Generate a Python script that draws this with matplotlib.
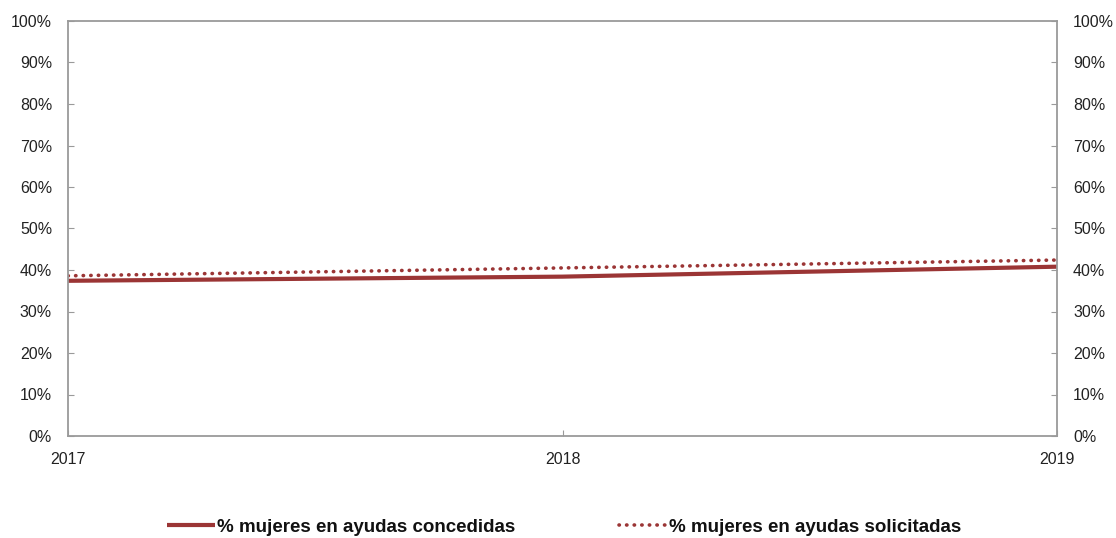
import matplotlib
matplotlib.use("Agg")
import matplotlib.pyplot as plt
from matplotlib.ticker import PercentFormatter

years = ["2017", "2018", "2019"]
concedidas = [37.4, 38.4, 40.8]
solicitadas = [38.6, 40.5, 42.4]
yticks = [0, 10, 20, 30, 40, 50, 60, 70, 80, 90, 100]

color = "#9b3535"
spine_c = "#9a9a9a"

plt.rcParams["font.family"] = ["Liberation Sans", "DejaVu Sans"]

fig = plt.figure(figsize=(11.16, 5.38), dpi=100)
ax = fig.add_axes([68/1116, 1-436/538, (1057-68)/1116, (436-21)/538])

x = list(range(len(years)))
ax.plot(x, concedidas, color=color, lw=3, solid_capstyle="butt",
        label="% mujeres en ayudas concedidas")
ax.plot(x, solicitadas, color=color, lw=2.6, linestyle=(0, (0.1, 2.0)),
        dash_capstyle="round", label="% mujeres en ayudas solicitadas")

ax.set_xlim(0, len(years)-1)
ax.set_ylim(0, 100)
ax.set_xticks(x)
ax.set_xticklabels(years)
ax.set_yticks(yticks)
ax.yaxis.set_major_formatter(PercentFormatter(decimals=0))

for s in ax.spines.values():
    s.set_color(spine_c)
    s.set_linewidth(1.3)

ax.tick_params(axis="y", direction="in", length=4, color=spine_c, labelsize=11.5,
               labelcolor="#222222", pad=11.5, left=True, right=True,
               labelleft=True, labelright=True)
ax.tick_params(axis="x", direction="in", length=4, color=spine_c, labelsize=11.5,
               labelcolor="#222222", pad=11.5)

leg = fig.legend(loc="center", bbox_to_anchor=(0.5055, 0.02), ncol=2,
                 frameon=False, handlelength=2.6, handletextpad=0.1,
                 columnspacing=5.5, borderpad=0, borderaxespad=0,
                 prop={"weight": "bold", "size": 13.5})
for t in leg.get_texts():
    t.set_color("#111111")

fig.savefig("out.png", dpi=100)
